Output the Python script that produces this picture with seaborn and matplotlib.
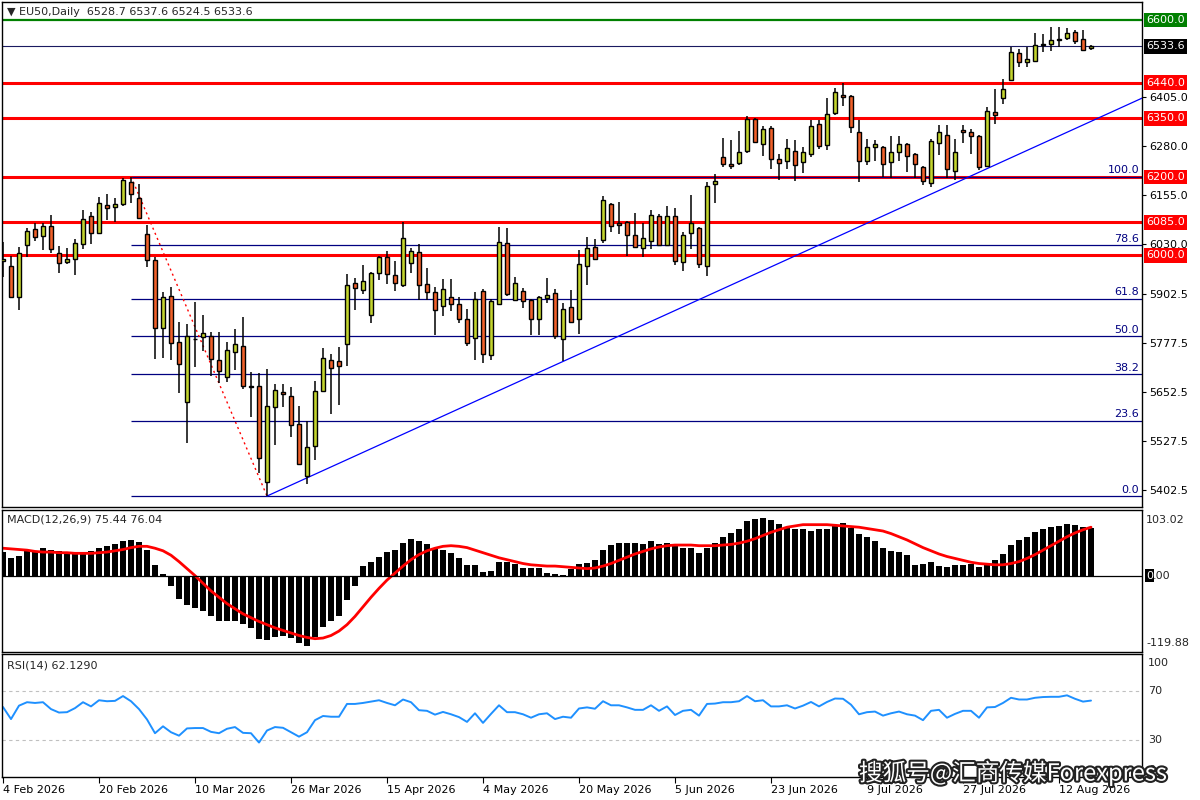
import numpy as np
import pandas as pd
import matplotlib
matplotlib.use("Agg")
import matplotlib.pyplot as plt
import matplotlib.transforms as mtrans
from matplotlib import patheffects as pe
import seaborn as sns

sns.set_theme(style="white")
plt.rcParams['font.family'] = ['DejaVu Sans']

# ---------------- data ----------------
opens = [5985, 5973, 5895, 6027, 6067, 6050, 6075, 6006, 5984, 5991,
         6029, 6101, 6057, 6129, 6124, 6131, 6187, 6146, 6055, 5989,
         5814, 5897, 5780, 5627, 5788, 5792, 5795, 5734, 5691, 5755,
         5769, 5668, 5667, 5423, 5614, 5653, 5642, 5570, 5438, 5515,
         5655, 5734, 5732, 5775, 5930, 5913, 5849, 5956, 5996, 5950,
         5926, 5981, 6009, 5928, 5908, 5872, 5895, 5877, 5839, 5790,
         5910, 5746, 5877, 6032, 5887, 5910, 5887, 5839, 5892, 5905,
         5787, 5869, 5839, 5973, 6022, 6040, 6131, 6083, 6085, 6052,
         6019, 6037, 6101, 6027, 6101, 5984, 6057, 6070, 5973, 6182,
         6252, 6233, 6236, 6266, 6348, 6284, 6325, 6246, 6241, 6266,
         6238, 6259, 6335, 6282, 6363, 6409, 6406, 6315, 6241, 6277,
         6277, 6238, 6264, 6284, 6259, 6225, 6185, 6287, 6307, 6215,
         6320, 6315, 6305, 6228, 6366, 6401, 6447, 6516, 6493, 6496,
         6536, 6539, 6550, 6554, 6569, 6552, 6528.7]
highs = [6035, 5999, 6021, 6070, 6083, 6083, 6103, 6024, 6019, 6042,
         6116, 6111, 6149, 6157, 6146, 6197, 6201, 6182, 6078, 5996,
         5908, 5920, 5831, 5825, 5882, 5848, 5805, 5805, 5780, 5813,
         5843, 5703, 5700, 5711, 5673, 5673, 5665, 5617, 5578, 5680,
         5765, 5749, 5767, 5953, 5943, 5976, 5959, 5999, 6011, 5986,
         6085, 6019, 6029, 5969, 5920, 5941, 5941, 5895, 5864, 5908,
         5915, 5890, 6073, 6070, 5945, 5917, 5890, 5897, 5943, 5915,
         5879, 5913, 6014, 6047, 6042, 6152, 6134, 6136, 6088, 6108,
         6083, 6116, 6106, 6126, 6121, 6060, 6154, 6073, 6187, 6208,
         6299, 6294, 6317, 6355, 6350, 6330, 6330, 6259, 6297, 6294,
         6276, 6345, 6345, 6401, 6427, 6440, 6409, 6345, 6297, 6294,
         6279, 6304, 6304, 6287, 6261, 6228, 6297, 6333, 6333, 6297,
         6333, 6322, 6307, 6378, 6424, 6450, 6531, 6526, 6531, 6567,
         6564, 6582, 6582, 6580, 6575, 6575, 6537.6]
lows = [5944, 5893, 5860, 5996, 6037, 6014, 6006, 5956, 5978, 5950,
        6017, 6029, 6055, 6091, 6085, 6126, 6134, 6093, 5971, 5737,
        5739, 5734, 5650, 5523, 5716, 5757, 5693, 5676, 5678, 5709,
        5660, 5588, 5446, 5387, 5517, 5614, 5537, 5466, 5418, 5479,
        5652, 5596, 5619, 5719, 5862, 5902, 5828, 5938, 5928, 5910,
        5920, 5956, 5887, 5887, 5798, 5847, 5859, 5828, 5769, 5734,
        5726, 5734, 5875, 5897, 5885, 5866, 5798, 5798, 5879, 5787,
        5732, 5828, 5800, 5926, 5989, 6032, 6060, 6055, 5999, 6019,
        5996, 6017, 6024, 6024, 5976, 5961, 6017, 5968, 5948, 6134,
        6225, 6220, 6231, 6261, 6287, 6254, 6220, 6192, 6220, 6190,
        6210, 6251, 6271, 6269, 6358, 6381, 6312, 6187, 6231, 6241,
        6200, 6197, 6241, 6213, 6197, 6180, 6175, 6256, 6197, 6192,
        6287, 6259, 6218, 6225, 6335, 6386, 6445, 6480, 6480, 6494,
        6518, 6521, 6531, 6549, 6539, 6524, 6524.5]
closes = [5990, 5895, 6006, 6062, 6047, 6075, 6017, 5981, 5991, 6032,
          6093, 6057, 6134, 6121, 6131, 6192, 6157, 6096, 5989, 5816,
          5895, 5777, 5724, 5795, 5786, 5802, 5736, 5706, 5760, 5775,
          5667, 5666, 5484, 5617, 5658, 5647, 5568, 5469, 5512, 5655,
          5739, 5714, 5719, 5926, 5917, 5935, 5956, 5996, 5953, 5930,
          6045, 6011, 5926, 5908, 5862, 5915, 5877, 5839, 5777, 5890,
          5749, 5884, 6035, 5902, 5930, 5884, 5837, 5895, 5900, 5795,
          5864, 5831, 5978, 6019, 5991, 6141, 6075, 6078, 6052, 6022,
          6045, 6103, 6027, 6101, 5986, 6052, 6083, 5978, 6177, 6190,
          6233, 6228, 6264, 6348, 6289, 6322, 6246, 6236, 6274, 6231,
          6264, 6330, 6279, 6361, 6417, 6404, 6327, 6241, 6277, 6284,
          6233, 6264, 6284, 6254, 6233, 6190, 6292, 6315, 6220, 6264,
          6315, 6305, 6225, 6368, 6358, 6424, 6518, 6493, 6501, 6536,
          6539, 6549, 6552, 6567, 6547, 6524, 6533.6]

macd_hist = [37.7, 28, 31, 38, 39, 44, 40, 38, 37, 35, 35, 38, 44, 47, 49, 55, 56, 53, 41, 17, 3,
             -17, -37, -46, -51, -55, -63, -71, -72, -71, -76, -82, -99, -101, -97, -95, -98, -106,
             -110, -97, -80, -72, -63, -38, -17,
             15, 22, 29, 37, 41, 52, 57, 54, 49, 44, 41, 35, 28, 16, 16, 6, 7, 21, 21, 19, 12, 12,
             12, 4, 3, 1, 11, 18, 20,
             24.6, 40, 48, 52, 52, 51, 49, 54, 49, 52, 49, 44, 44, 35, 44, 52, 61, 67, 73, 85, 89,
             90, 87, 81, 75, 73, 73, 70, 73, 73, 78, 82, 74, 66, 60, 54, 44, 38, 37, 32, 17, 19, 22,
             15, 14, 17, 17, 18, 13, 16, 25, 34, 48, 56, 61, 68, 73, 76, 78, 81, 79, 76, 75.44]
macd_signal = [43, 42, 41, 40, 38, 37, 37, 36, 36, 35, 35, 35, 36, 37, 39, 41, 44, 46, 46, 43, 39,
               32, 22, 11, 0, -12, -24, -34, -44, -52, -60, -66, -72, -77, -82, -86, -90, -94,
               -97, -99, -98, -94, -87, -77, -64,
               -49, -34, -20, -7, 4, 15, 25, 33, 39, 43, 46, 47, 46, 44, 40, 36, 32, 28, 25, 22,
               19, 17, 16, 15, 15, 14, 13, 12, 11,
               12, 15, 19, 24, 29, 34, 38, 42, 45, 47, 48, 48, 48, 47, 47, 47, 48, 49, 51, 54,
               58, 63, 68, 72, 76, 78, 80, 80, 80, 80, 79, 78, 77, 76, 74, 72, 70, 66, 61, 56,
               50, 44, 39, 34, 30, 27, 24, 21, 19, 18, 17, 17, 19, 22, 27, 33, 40, 47, 54, 61,
               67, 72, 76.04]
rsi_vals = [56.9, 47.1, 58, 60.8, 60.2, 60.8, 55.2, 52.4, 52.7, 56,
            60.8, 57.4, 62.4, 61.6, 61.9, 65.8, 61.6, 55.2, 46.8, 35.6,
            41.2, 36.4, 33.6, 39.5, 39.8, 39.8, 36.7, 35.6, 39.2, 40.6,
            35.9, 35.6, 28, 37.8, 40.6, 40, 36.4, 32.8, 36.4, 46.2,
            49.6, 49, 49, 59.4, 59.4, 60.2, 61.3, 62.4, 60.2, 58.3,
            63, 60.8, 54.3, 53.8, 50.7, 52.9, 51, 48.7, 44.8, 51.8,
            44, 51.3, 58.3, 52.7, 52.7, 51, 48.2, 51, 51.8, 47.1,
            49, 48.2, 55.7, 56.6, 55.5, 61.6, 58.3, 58.3, 56.6, 54.6,
            54.6, 58.3, 53.8, 57.4, 50.4, 53.8, 54.6, 49.9, 59.4, 59.7,
            60.8, 60.8, 61.6, 65.8, 61.6, 62.4, 57.4, 57.4, 58.3, 55.7,
            58, 61, 57.4, 61, 63.8, 63.6, 58.8, 51, 52.7, 53.2,
            49.9, 51.8, 53.2, 51, 49.9, 46.2, 53.8, 54.6, 48.2, 51.3,
            53.8, 53.8, 48.2, 56.6, 56.9, 60.2, 64.4, 63, 63, 64.4,
            65, 65.2, 65.2, 66.4, 63.6, 61.3, 62.129]

date_labels = ["4 Feb 2026", "20 Feb 2026", "10 Mar 2026", "26 Mar 2026", "15 Apr 2026",
               "4 May 2026", "20 May 2026", "5 Jun 2026", "23 Jun 2026", "9 Jul 2026",
               "27 Jul 2026", "12 Aug 2026"]
date_bars = [0, 12, 24, 36, 48, 60, 72, 84, 96, 108, 120, 132]

red_levels = [6440.0, 6350.0, 6200.0, 6085.0, 6000.0]
green_level = 6600.0
last_price = 6533.6
fib_ratios = [100.0, 78.6, 61.8, 50.0, 38.2, 23.6, 0.0]
fib_high_bar, fib_high = 16, 6201.0
fib_low_bar, fib_low = 33, 5387.0
trend_bars = [33, 122]
trend_prices = [5387.0, 6212.0]
plain_price_ticks = [6405.0, 6280.0, 6155.0, 6030.0, 5902.5, 5777.5, 5652.5, 5527.5, 5402.5]

# ---------------- figure layout ----------------
W, H = 1200, 800
fig = plt.figure(figsize=(12, 8), dpi=100)
fig.patch.set_facecolor("white")
L, R = 2, 1142
ax_p = fig.add_axes([L / W, 1 - 507 / H, (R - L) / W, 505 / H])
ax_m = fig.add_axes([L / W, 1 - 652 / H, (R - L) / W, 142 / H])
ax_r = fig.add_axes([L / W, 1 - 777 / H, (R - L) / W, 123 / H])

idx = np.arange(len(closes))
df = pd.DataFrame({"bar": idx, "open": opens, "high": highs, "low": lows, "close": closes,
                   "macd": macd_hist, "signal": macd_signal, "rsi": rsi_vals})
XMIN, XMAX = -0.125, 142.375

BULL = "#C3D42E"
BEAR = "#F0602A"
NAVY = "#000080"

# ---------------- price panel ----------------
ax = ax_p
ax.axhline(green_level, color="#008000", lw=1.6, zorder=1)
for lv in red_levels:
    ax.axhline(lv, color="#FF0000", lw=2.2, zorder=1)
ax.axhline(last_price, color="#1a1a60", lw=0.8, zorder=1)

fib_levels = [fib_low + r / 100.0 * (fib_high - fib_low) for r in fib_ratios]
ax.hlines(fib_levels, fib_high_bar, 200, color=NAVY, lw=0.9, zorder=2)
blend_p = mtrans.blended_transform_factory(ax.transAxes, ax.transData)
for r, lv in zip(fib_ratios, fib_levels):
    ax.annotate(f"{r:.1f}", xy=(1.0, lv), xycoords=blend_p, xytext=(-2, 1),
                textcoords="offset points", ha="right", va="bottom", color=NAVY, fontsize=8)

# dotted fib connector
ax.plot([fib_high_bar, fib_low_bar], [fib_high, fib_low], color="red", lw=1.0,
        ls=(0, (1.5, 2.5)), zorder=3)
# trend ray
slope = (trend_prices[1] - trend_prices[0]) / (trend_bars[1] - trend_bars[0])
ax.plot([trend_bars[0], 200], [trend_prices[0], trend_prices[0] + slope * (200 - trend_bars[0])],
        color="#0000FF", lw=0.9, zorder=3)

# candles
bull = df["close"] >= df["open"]
body_lo = np.minimum(df["open"], df["close"])
body_h = np.maximum(np.abs(df["close"] - df["open"]), 1.2)
ax.vlines(df["bar"], df["low"], df["high"], color="black", lw=1.1, zorder=4)
ax.bar(df["bar"], body_h, bottom=body_lo, width=0.62,
       color=np.where(bull, BULL, BEAR), edgecolor="black", linewidth=1.0, zorder=5)

ax.set_xlim(XMIN, XMAX)
ax.set_ylim(5359.1, 6645.9)
ax.yaxis.tick_right()
ax.set_yticks(plain_price_ticks)
ax.set_yticklabels([f"{v:.1f}" for v in plain_price_ticks])
ax.tick_params(axis="y", which="both", right=True, length=3, width=0.8, pad=2,
               labelsize=8, colors="black", direction="out")
ax.tick_params(axis="x", bottom=False, labelbottom=False)

box_specs = [(green_level, "#008000")] + [(last_price, "black")] + [(lv, "#FF0000") for lv in red_levels]
for lv, col in box_specs:
    ax.text(1.0 + 4 / (R - L), lv, f"{lv:.1f}", transform=blend_p, ha="left", va="center",
            color="white", fontsize=8,
            bbox=dict(boxstyle="square,pad=0.22", fc=col, ec="none"))

# ---------------- MACD panel ----------------
sns.barplot(x=df["bar"], y=df["macd"], native_scale=True, color="black", width=0.72,
            errorbar=None, linewidth=0, saturation=1, ax=ax_m)
sns.lineplot(x=df["bar"], y=df["signal"], color="#FF0000", lw=2.0, ax=ax_m)
ax_m.axhline(0, color="black", lw=0.9)
ax_m.set_xlim(XMIN, XMAX)
ax_m.set_ylim(-119.88, 103.02)
ax_m.set_xlabel("")
ax_m.set_ylabel("")
ax_m.set_xticks([])
ax_m.set_yticks([])
blend_m = mtrans.blended_transform_factory(ax_m.transAxes, ax_m.transData)
ax_m.text(1.0 + 4 / (R - L), 0.93, "103.02", transform=ax_m.transAxes, ha="left",
          va="center", fontsize=8)
ax_m.text(1.0 + 4 / (R - L), 0.063, "-119.88", transform=ax_m.transAxes, ha="left",
          va="center", fontsize=8)
ax_m.text(1.0 + 4 / (R - L), 0, "0", transform=blend_m, ha="left", va="center",
          fontsize=8, color="white", bbox=dict(boxstyle="square,pad=0.12", fc="black", ec="none"))
ax_m.text(1.0 + 11 / (R - L), 0, ".00", transform=blend_m, ha="left", va="center", fontsize=8)

# ---------------- RSI panel ----------------
ax_r.axhline(70, color="#C0C0C0", lw=0.8, ls=(0, (3, 3)))
ax_r.axhline(30, color="#C0C0C0", lw=0.8, ls=(0, (3, 3)))
sns.lineplot(x=df["bar"], y=df["rsi"], color="#1E90FF", lw=1.4, ax=ax_r)
ax_r.set_xlim(XMIN, XMAX)
ax_r.set_ylim(0, 100)
ax_r.set_xlabel("")
ax_r.set_ylabel("")
ax_r.set_yticks([])
for val, yfrac in [("100", 0.927), ("0", 0.06)]:
    ax_r.text(1.0 + 6 / (R - L), yfrac, val, transform=ax_r.transAxes, ha="left",
              va="center", fontsize=8)
blend_r = mtrans.blended_transform_factory(ax_r.transAxes, ax_r.transData)
for v in [70, 30]:
    ax_r.text(1.0 + 6 / (R - L), v, str(v), transform=blend_r, ha="left", va="center", fontsize=8)

ax_r.set_xticks(date_bars)
ax_r.set_xticklabels(date_labels)
for lab in ax_r.get_xticklabels():
    lab.set_horizontalalignment("left")
ax_r.tick_params(axis="x", bottom=True, length=4, width=0.8, direction="out", pad=2,
                 labelsize=8, colors="black")

for a in (ax_p, ax_m, ax_r):
    for s in a.spines.values():
        s.set_color("black")
        s.set_linewidth(1.0)
        s.set_visible(True)
    a.set_facecolor("white")
    a.grid(False)

# ---------------- texts ----------------
fig.text(7 / W, 1 - 12 / H, "\u25bc EU50,Daily  6528.7 6537.6 6524.5 6533.6",
         fontsize=8, va="center", ha="left")
fig.text(7 / W, 1 - 520 / H, "MACD(12,26,9) 75.44 76.04", fontsize=8, va="center", ha="left")
fig.text(7 / W, 1 - 665 / H, "RSI(14) 62.1290", fontsize=8, va="center", ha="left")

fig.text(1013 / W, 1 - 773 / H, "搜狐号@汇商传媒Forexpress", fontsize=17, color="white",
         ha="center", va="center", family=["Noto Sans CJK SC", "DejaVu Sans"],
         path_effects=[pe.withStroke(linewidth=3, foreground="#222222")], zorder=10)

fig.savefig("out.png", dpi=100, facecolor="white")
